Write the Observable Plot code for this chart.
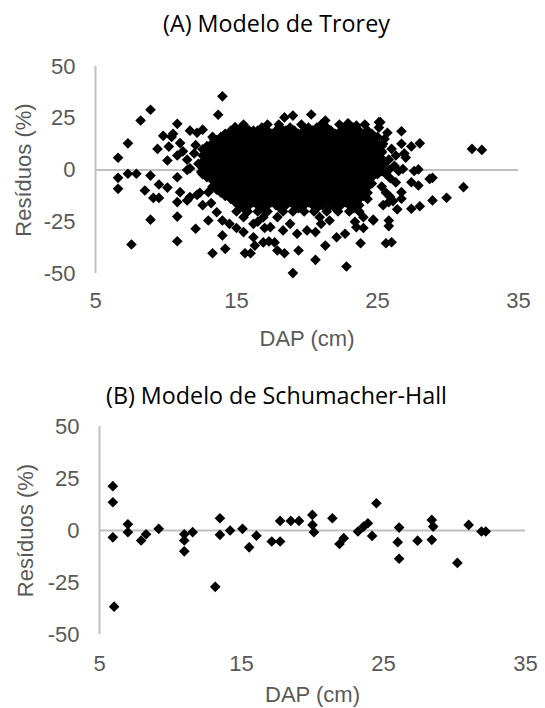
<!DOCTYPE html>
<html><head><meta charset="utf-8">
<script src="https://cdn.jsdelivr.net/npm/d3@7"></script>
<script src="https://cdn.jsdelivr.net/npm/@observablehq/plot@0.6"></script>
<style>
body{margin:0;background:#fff;}
#wrap{position:relative;width:545px;height:708px;overflow:hidden;background:#fff;}
.panel{position:absolute;left:0;}
#wrap svg, #wrap svg text{font-family:"Liberation Sans", Arial, sans-serif !important;}
.title{position:absolute;left:4px;width:545px;text-align:center;font-family:"Open Sans";font-size:23.3px;color:#000;white-space:nowrap;}
</style></head><body><div id="wrap"></div>
<script>
// ---- tick labels / text ----
const xTicks = [5, 15, 25, 35];
const yTicks = [-50, -25, 0, 25, 50];
const titleA = "(A) Modelo de Trorey";
const titleB = "(B) Modelo de Schumacher-Hall";
const xLabel = "DAP (cm)";
const yLabel = "Resíduos (%)";

// ---- (A) Trorey: scattered points [DAP, residual] ----
const troreyScatter = [
  [6.6,5.9],[6.6,-3.8],[6.6,-9.1],[7.3,12.9],[7.3,-1.8],[7.55,-36],[7.9,-1.8],[8.2,23.9],[8.5,-9.9],[8.9,29.1],
  [8.9,-2.7],[8.9,-24],[9.1,-13.5],[9.4,10.2],[9.5,-13.5],[9.5,-7],[9.8,16.5],[10.1,-8.5],[10.1,4.6],[10.2,11.3],
  [10.4,16],[10.5,17.5],[10.8,22.3],[10.8,7],[10.8,-3.5],[10.8,-15.5],[10.8,-22.5],[10.8,-34.4],[11.0,-10.7],[11.5,-14.7],
  [11.5,0],[11.7,19],[11.7,-13.1],[11.7,0.8],[12.1,-28.4],[12.2,18],[12.2,-12],[12.4,-11],[12.5,-1],[12.6,19.5],
  [13.0,-1.2],[13.0,-10.7],[13.0,-24.4],[13.3,-40.2],[13.4,15],[13.6,-20.4],[13.7,26.7],[13.8,14],[14.0,35.6],[14.0,-24.4],
  [14.0,-31.6],[14.2,-38.1],[14.3,13],[14.9,20.7],[11.2,9],[11.5,5],[11.0,13],[12.0,8],[12.3,3],[12.1,12],
  [12.6,-17],[13.2,-16],
  [15.5,21.5],[16.2,19],[18.4,25.4],[19.0,26.3],[20.3,26.8],[21.3,23.9],[22.9,22.5],[23.5,21.5],[25.1,23.1],[25.1,20.5],
  [14.5,-26],[15.0,-28],[15.5,-30],[16.2,-32.5],[16.3,-36.5],[15.6,-40.2],[16.0,-40.2],[16.9,-35],[17.3,-34.5],[17.7,-35],
  [17.9,-38.9],[18.4,-40.2],[19.4,-38.9],[19.0,-49.8],[20.6,-43.4],[22.8,-46.6],[21.3,-36.5],[20.0,-29.2],[20.6,-30],[22.1,-32.5],
  [22.7,-30.8],[18.8,-26],[19.3,-30.8],[23.8,-35.4],[24.7,-24],[25.6,-35.4],[17.0,-28],[16.5,-25],[21.0,-26],[24.0,-28],
  [23.4,-25],[15.5,-22.8],[16.2,-26],[16.9,-22.8],[17.4,-27.6],[17.9,-22.8],[18.3,-29.2],[20.9,-22.8],[21.6,-24.4],[23.5,-27.6],
  [24.0,-22.8],[24.7,-24.4],
  [25.2,23.1],[26.7,18.7],[25.4,12.7],[26.0,10.2],[26.7,12.7],[27.4,11.4],[28.0,12.9],[25.8,5],[26.3,7],[26.9,8],
  [27.0,6],[31.7,10.2],[32.4,9.7],[25.8,0],[26.5,-0.5],[26.8,0.5],[27.6,-0.5],[27.9,0.3],[28.7,-4.3],[28.9,-3.8],
  [27.4,-5.9],[27.9,-7.5],[31.1,-8.3],[25.3,-8],[25.6,-11],[25.9,-13],[26.1,-15],[26.7,-10.7],[26.7,-13.9],[29.9,-13.4],
  [28.9,-14.7],[27.4,-18.7],[28.0,-17.5],[25.8,-15.5],[25.8,-24.4],[25.8,-27.1],[26.0,-34.9],[25.5,3],[25.9,-4],[26.3,-6],
  [25.5,15],[25.7,18],[25.3,9],[25.6,-2],[26.2,2],[25.4,-17],[26.4,-19]
];
// ---- (A) Trorey: dense core, read as rows [residual, DAP values] ----
const troreyCoreRows = [
  [22, [15.5,17.2,18.0,19.6,21.0,22.3,23.0,24.1]],
  [20.5, [15.5,16.8,18.1,18.8,20.1,20.7,21.4,22.7,23.3]],
  [19, [14.6,15.2,15.9,16.5,17.2,17.8,18.5,19.1,19.8,20.4,21.1,21.7,22.4,23.0,23.7,24.3]],
  [17.5, [14.2,14.9,15.5,16.2,16.8,17.5,18.1,18.8,19.4,20.1,20.7,21.4,22.0,22.7,23.3,24.0,24.6]],
  [16, [13.3,13.9,14.6,15.2,15.9,16.5,17.2,17.8,18.5,19.1,19.8,20.4,21.1,21.7,22.4,23.0,23.7,24.3,25.0]],
  [14.5, [13.6,14.2,14.9,15.5,16.2,16.8,17.5,18.1,18.8,19.4,20.1,20.7,21.4,22.0,22.7,23.3,24.0,24.6]],
  [13, [13.3,13.9,14.6,15.2,15.9,16.5,17.2,17.8,18.5,19.1,19.8,20.4,21.1,21.7,22.4,23.0,23.7,24.3,25.0]],
  [11.5, [12.9,13.6,14.2,14.9,15.5,16.2,16.8,17.5,18.1,18.8,19.4,20.1,20.7,21.4,22.0,22.7,23.3,24.0,24.6,25.3]],
  [10, [12.6,13.3,13.9,14.6,15.2,15.9,16.5,17.2,17.8,18.5,19.1,19.8,20.4,21.1,21.7,22.4,23.0,23.7,24.3,25.0]],
  [8.5, [12.9,13.6,14.2,14.9,15.5,16.2,16.8,17.5,18.1,18.8,19.4,20.1,20.7,21.4,22.0,22.7,23.3,24.0,24.6,25.3]],
  [7, [12.6,13.3,13.9,14.6,15.2,15.9,16.5,17.2,17.8,18.5,19.1,19.8,20.4,21.1,21.7,22.4,23.0,23.7,24.3,25.0]],
  [5.5, [12.9,13.6,14.2,14.9,15.5,16.2,16.8,17.5,18.1,18.8,19.4,20.1,20.7,21.4,22.0,22.7,23.3,24.0,24.6,25.3]],
  [4, [12.6,13.3,13.9,14.6,15.2,15.9,16.5,17.2,17.8,18.5,19.1,19.8,20.4,21.1,21.7,22.4,23.0,23.7,24.3,25.0]],
  [2.5, [12.9,13.6,14.2,14.9,15.5,16.2,16.8,17.5,18.1,18.8,19.4,20.1,20.7,21.4,22.0,22.7,23.3,24.0,24.6,25.3]],
  [1, [12.6,13.3,13.9,14.6,15.2,15.9,16.5,17.2,17.8,18.5,19.1,19.8,20.4,21.1,21.7,22.4,23.0,23.7,24.3,25.0]],
  [-0.5, [12.9,13.6,14.2,14.9,15.5,16.2,16.8,17.5,18.1,18.8,19.4,20.1,20.7,21.4,22.0,22.7,23.3,24.0,24.6,25.3]],
  [-2, [12.6,13.3,13.9,14.6,15.2,15.9,16.5,17.2,17.8,18.5,19.1,19.8,20.4,21.1,21.7,22.4,23.0,23.7,24.3,25.0]],
  [-3.5, [12.9,13.6,14.2,14.9,15.5,16.2,16.8,17.5,18.1,18.8,19.4,20.1,20.7,21.4,22.0,22.7,23.3,24.0,24.6]],
  [-5, [13.3,13.9,14.6,15.2,15.9,16.5,17.2,17.8,18.5,19.1,19.8,20.4,21.1,21.7,22.4,23.0,23.7,24.3]],
  [-6.5, [13.6,14.2,14.9,15.5,16.2,16.8,17.5,18.1,18.8,19.4,20.1,20.7,21.4,22.0,22.7,23.3,24.0,24.6]],
  [-8, [13.3,13.9,14.6,15.2,15.9,16.5,17.2,17.8,18.5,19.1,19.8,20.4,21.1,21.7,22.4,23.0,23.7,24.3]],
  [-9.5, [13.6,14.2,14.9,15.5,16.2,16.8,17.5,18.1,18.8,19.4,20.1,20.7,21.4,22.0,22.7,23.3,24.0]],
  [-11, [13.9,14.6,15.2,15.9,16.5,17.2,17.8,18.5,19.1,19.8,20.4,21.1,21.7,22.4,23.0,23.7,24.3]],
  [-12.5, [14.2,14.9,15.5,16.2,16.8,17.5,18.1,18.8,19.4,20.1,20.7,21.4,22.0,22.7,23.3,24.0]],
  [-14, [14.6,15.2,15.9,16.5,17.2,17.8,18.5,19.1,19.8,20.4,21.1,21.7,22.4,23.0,23.7,24.3]],
  [-15.5, [14.9,15.5,16.2,16.8,17.5,18.1,18.8,19.4,20.1,20.7,21.4,22.0,22.7,23.3]],
  [-17, [15.2,15.9,16.5,17.2,17.8,18.5,19.1,19.8,20.4,21.1,21.7,22.4,23.0,23.7]],
  [-18.5, [15.5,16.8,18.1,19.4,20.7,22.0,23.3]],
  [-20, [15.0,15.8,16.5,17.2,18.3,19.0,19.8,20.5,21.4,22.2,23.0,23.7]]
];

// ---- (B) Schumacher-Hall [DAP, residual] ----
const schumacherPoints = [
  [5.94,21.3],[5.94,13.6],[5.94,-3.3],[6.03,-36.6],[7.0,3],[7.0,-0.8],[7.93,-4.8],[8.28,-1.8],[9.17,0.8],[10.97,-1.8],
  [10.97,-4.8],[10.97,-10],[11.56,-0.8],[13.15,-27.1],[13.48,5.9],[13.48,-2.1],[14.2,0],[15.07,0.8],[15.54,-8.1],[16.05,-2.5],
  [17.13,-5.3],[17.72,-5.3],[17.72,4.6],[18.47,4.6],[19.05,4.6],[19.99,7.5],[20.0,2.7],[20.1,-0.8],[21.4,5.9],[21.9,-6.5],
  [22.2,-3.7],[23.2,-0.5],[23.6,1.9],[23.9,3.5],[24.2,-2.6],[24.5,13.1],[26.1,1.4],[26.0,-5.6],[26.1,-13.6],[27.4,-4.9],
  [28.4,5.1],[28.5,1.9],[28.4,-4.5],[30.2,-15.6],[31.0,2.7],[31.9,-0.5],[32.2,-0.5]
];

const troreyPoints = troreyScatter.concat(
  troreyCoreRows.flatMap(([res, daps]) => daps.map(d => [d, res]))
);

const gray = "#595959";
const font = "Liberation Sans";
function panel(points, o) {
  return Plot.plot({
    width: 545, height: o.height,
    marginTop: o.mt, marginBottom: o.mb, marginLeft: o.ml, marginRight: o.mr,
    style: {fontFamily: font, fontSize: "22px", background: "transparent", overflow: "visible"},
    x: {domain: [5, 35]},
    y: {domain: [-50, 50]},
    marks: [
      Plot.ruleY([0], {stroke: "#BFBFBF", strokeWidth: 2}),
      Plot.ruleX([5], {stroke: "#BFBFBF", strokeWidth: 2}),
      Plot.axisX({ticks: xTicks, tickSize: 0, tickPadding: o.xpad, color: gray, fontSize: 22, fontFamily: font, label: null, tickFormat: d => String(d)}),
      Plot.axisY({ticks: yTicks, tickSize: 0, tickPadding: 20, color: gray, fontSize: 22, fontFamily: font, label: null, tickFormat: d => String(d)}),
      Plot.dot(points, {x: d => d[0], y: d => d[1], symbol: "diamond2", r: 4.8, fill: "#000", stroke: "none"}),
      Plot.text([xLabel], {frameAnchor: "bottom", lineAnchor: "middle", textAnchor: "middle", dy: o.xdy, fill: gray, fontSize: 22, fontFamily: font}),
      Plot.text([yLabel], {frameAnchor: "left", lineAnchor: "middle", textAnchor: "middle", rotate: -90, dx: o.ydx, fill: gray, fontSize: 22, fontFamily: font})
    ]
  });
}

const wrap = document.getElementById("wrap");
function place(el, top) {
  const d = document.createElement("div");
  d.className = "panel";
  d.style.top = top + "px";
  d.appendChild(el);
  wrap.appendChild(d);
}
place(panel(troreyPoints, {height: 330, mt: 36, mb: 87, ml: 95, mr: 27, xpad: 19, xdy: 65, ydx: -71.5}), 30);
place(panel(schumacherPoints, {height: 313, mt: 31, mb: 74, ml: 99, mr: 20, xpad: 21, xdy: 60, ydx: -74}), 395);

function addTitle(text, centerY) {
  const t = document.createElement("div");
  t.className = "title";
  t.textContent = text;
  t.style.top = (centerY - 16) + "px";
  t.style.height = "32px";
  t.style.lineHeight = "32px";
  wrap.appendChild(t);
}
addTitle(titleA, 23);
addTitle(titleB, 395);
</script>
</body></html>
